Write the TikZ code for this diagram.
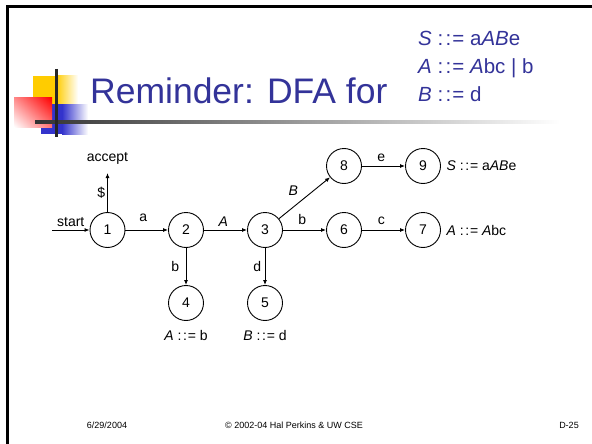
\documentclass[tikz,border=0pt]{standalone}
\usepackage{fontspec}
\setmainfont{Liberation Sans}
\usetikzlibrary{arrows.meta,shadings}
\definecolor{titleblue}{HTML}{333399}
\definecolor{logoyellow}{HTML}{FFCC00}
\definecolor{logored}{HTML}{FF0000}
\definecolor{logoblue}{HTML}{3333CC}
\newcommand{\cceq}{:\kern0.12em:\kern0.05em=}
\begin{document}
\begin{tikzpicture}[x=1pt,y=-1pt,
  state/.style={circle, draw, line width=0.9pt, minimum size=35pt, inner sep=0pt, font=\fontsize{14}{16}\selectfont},
  lbl/.style={font=\fontsize{14}{16}\selectfont, inner sep=2pt},
  arr/.style={-{Latex[length=5pt,width=4pt]}, line width=0.9pt},
  titletext/.style={text=titleblue, inner sep=0pt, anchor=base west},
  foot/.style={font=\fontsize{9}{11}\selectfont, inner sep=0pt}]
\useasboundingbox (0,0) rectangle (592,444);
\fill[white] (0,0) rectangle (592,444);
% frame
\fill[black] (6,5) rectangle (9,444);
\fill[black] (6,5) rectangle (592,8);
% logo
\fill[logoyellow] (33,76) rectangle (56,104);
\shade[left color=logoyellow, right color=white] (56,76) rectangle (78,104);
\fill[logoblue] (41,104) rectangle (62,134);
\shade[left color=logoblue, right color=white] (62,104) rectangle (88,134);
\shade[upper right=logored, upper left=logored!45!white, lower right=logored!55!white, lower left=white] (14,98) rectangle (52,127);
\shade[left color=black!80, right color=white] (35,120) rectangle (560,123);
\draw[line width=3pt, black!85] (56,69) -- (56,137);
% title
\node[titletext, font=\fontsize{35.5}{40}\selectfont] (title) at (90,103) {Reminder: DFA for};
\node[titletext, font=\fontsize{20.5}{24}\selectfont] (g1) at (418,46) {\textit{S} \cceq{} a\textit{AB}e};
\node[titletext, font=\fontsize{20.5}{24}\selectfont] (g2) at (418,74) {\textit{A} \cceq{} \textit{A}bc | b};
\node[titletext, font=\fontsize{20.5}{24}\selectfont] (g3) at (418,102) {\textit{B} \cceq{} d};
% states
\node[state] (n1) at (107.5,230) {1};
\node[state] (n2) at (186,230) {2};
\node[state] (n3) at (265,230) {3};
\node[state] (n4) at (186,303) {4};
\node[state] (n5) at (265,303) {5};
\node[state] (n6) at (344,230) {6};
\node[state] (n7) at (423,230) {7};
\node[state] (n8) at (344,166) {8};
\node[state] (n9) at (423,166) {9};
\coordinate (st) at (52,230);
\coordinate (acc) at (107.5,173);
\node[lbl] (acclbl) at (107.5,158) {accept};
% edges
\draw[arr] (st) -- node[lbl, above=0.5pt] {start} (n1);
\draw[arr] (n1) -- node[lbl, left] {\$} (acc);
\draw[arr] (n1) -- node[lbl, above=6pt, pos=0.42] {a} (n2);
\draw[arr] (n2) -- node[lbl, above=1.5pt, pos=0.45] {\textit{A}} (n3);
\draw[arr] (n2) -- node[lbl, left=4.5pt] {b} (n4);
\draw[arr] (n3) -- node[lbl, left=1.5pt] {d} (n5);
\draw[arr] (n3) -- node[lbl, above=2.5pt, pos=0.45] {b} (n6);
\draw[arr] (n6) -- node[lbl, above=3pt, pos=0.45] {c} (n7);
\draw[arr] (n8) -- node[lbl, above=2pt, pos=0.45] {e} (n9);
\draw[arr] (n3) -- node[lbl, above left, pos=0.4, yshift=4pt, xshift=1pt] {\textit{B}} (n8);
% reductions
\node[lbl, right=3.5pt] (r9) at (n9.east) {\textit{S} \cceq{} a\textit{AB}e};
\node[lbl, right=3.5pt] (r7) at (n7.east) {\textit{A} \cceq{} \textit{A}bc};
\node[lbl, below=7pt] (r4) at (n4.south) {\textit{A} \cceq{} b};
\node[lbl, below=7pt] (r5) at (n5.south) {\textit{B} \cceq{} d};
% footer
\node[foot] (f1) at (107,425) {6/29/2004};
\node[foot] (f2) at (294,425) {© 2002-04 Hal Perkins \& UW CSE};
\node[foot] (f3) at (569,425) {D-25};
\end{tikzpicture}
\end{document}
